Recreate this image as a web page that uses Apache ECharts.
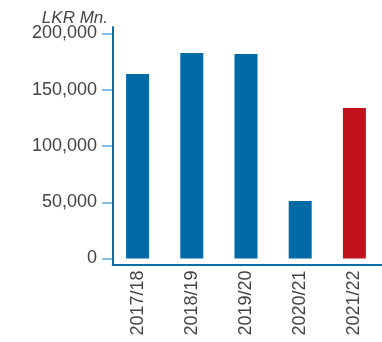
<!DOCTYPE html>
<html>
<head>
<meta charset="utf-8">
<script src="https://cdn.jsdelivr.net/npm/echarts@6/dist/echarts.min.js"></script>
<style>html,body{margin:0;padding:0;background:#fff}#c{width:382px;height:342px}</style>
</head>
<body>
<div id="c"></div>
<script>
const categories = ['2017/18', '2018/19', '2019/20', '2020/21', '2021/22'];
const values = [164000, 182700, 181800, 51100, 133800];
const highlightCategory = '2021/22';
const yTicks = [0, 50000, 100000, 150000, 200000];
const unitLabel = 'LKR Mn.';

const BLUE = '#006aa6';
const RED = '#c1121c';
const FONT = '"Liberation Sans", Arial, sans-serif';
const TEXT = '#444';

const chart = echarts.init(document.getElementById('c'), null, {renderer: 'canvas'});
chart.setOption({
  animation: false,
  title: {
    text: unitLabel, right: 274, top: 10, padding: 0,
    textStyle: {fontStyle: 'italic', fontWeight: 'normal', fontSize: 17, color: TEXT, fontFamily: FONT}
  },
  grid: [
    {left: 110.5, right: 0.5, top: 33.5, bottom: 83.5},
    {left: 112.7, right: 0, top: 27, bottom: 77}
  ],
  xAxis: [
    {
      type: 'category', gridIndex: 0, data: categories,
      axisLine: {show: false}, axisTick: {show: false},
      axisLabel: {rotate: 90, margin: 12, fontSize: 18, color: TEXT, fontFamily: FONT}
    },
    {
      type: 'value', gridIndex: 1, min: 0, max: 1,
      axisLine: {show: true, lineStyle: {color: '#0b6ea7', width: 2}},
      axisTick: {show: false}, axisLabel: {show: false}, splitLine: {show: false}
    }
  ],
  yAxis: [
    {
      type: 'value', gridIndex: 0, min: yTicks[0], max: yTicks[yTicks.length - 1], interval: yTicks[1] - yTicks[0],
      offset: -1.5,
      axisLine: {show: false},
      axisTick: {show: true, length: 10, lineStyle: {color: '#5ea7d3', width: 1.5}},
      splitLine: {show: false},
      axisLabel: {
        margin: 15, fontSize: 18, color: TEXT, fontFamily: FONT,
        formatter: v => v.toLocaleString('en-US')
      }
    },
    {
      type: 'value', gridIndex: 1, min: 0, max: 1,
      axisLine: {show: true, lineStyle: {color: '#0b6ea7', width: 2}},
      axisTick: {show: false}, axisLabel: {show: false}, splitLine: {show: false}
    }
  ],
  series: [{
    type: 'bar', xAxisIndex: 0, yAxisIndex: 0, barWidth: 23,
    data: values.map((v, i) => ({
      value: v,
      itemStyle: {color: categories[i] === highlightCategory ? RED : BLUE}
    }))
  }]
});
</script>
</body>
</html>
